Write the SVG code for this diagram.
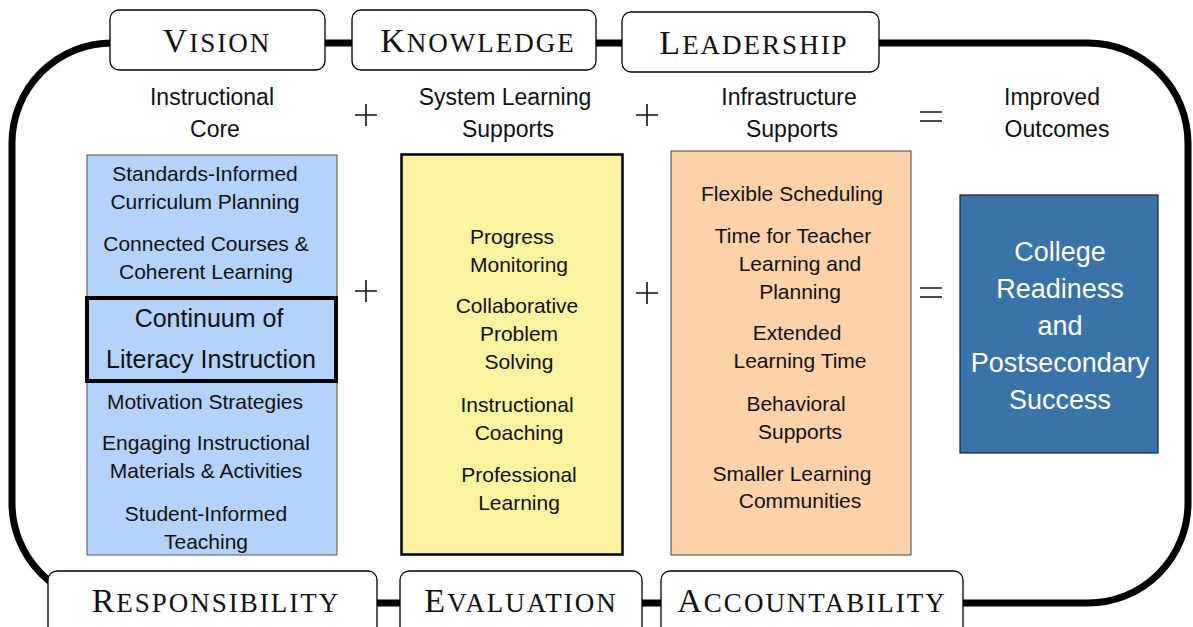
<svg xmlns="http://www.w3.org/2000/svg" width="1193" height="627" viewBox="0 0 1193 627">
<style>
.lbl{fill:#fff;stroke:#000;stroke-width:1.3}
.sc{font-family:"Liberation Serif",serif;font-size:27px;letter-spacing:2px;text-anchor:middle;fill:#111}
.sc .c{font-size:34px}
.hd{font-family:"Liberation Sans",Arial,sans-serif;font-size:23px;text-anchor:middle;fill:#111}
.bd{font-family:"Liberation Sans",Arial,sans-serif;font-size:21px;text-anchor:middle;fill:#111}
.big{font-family:"Liberation Sans",Arial,sans-serif;font-size:25px;text-anchor:middle;fill:#111}
.wt{font-family:"Liberation Sans",Arial,sans-serif;font-size:27px;text-anchor:middle;fill:#fff}
.op{stroke:#111;stroke-width:1.6;fill:none}
</style>
<rect width="1193" height="627" fill="#fff"/>
<g id="connectors">
<rect x="12" y="43" width="1176" height="560" rx="100" ry="100" fill="none" stroke="#000" stroke-width="7"/>
</g>
<g id="vision"><rect class="lbl" x="110" y="10" width="215" height="60" rx="9"/><text class="sc" x="217" y="52"><tspan class="c">V</tspan>ISION</text></g>
<g id="knowledge"><rect class="lbl" x="352" y="10" width="244" height="60" rx="9"/><text class="sc" x="478" y="52"><tspan class="c">K</tspan>NOWLEDGE</text></g>
<g id="leadership"><rect class="lbl" x="622" y="12" width="257" height="60" rx="9"/><text class="sc" x="754" y="54"><tspan class="c">L</tspan>EADERSHIP</text></g>
<g id="responsibility"><rect class="lbl" x="48" y="571" width="329" height="70" rx="9"/><text class="sc" x="216" y="612"><tspan class="c">R</tspan>ESPONSIBILITY</text></g>
<g id="evaluation"><rect class="lbl" x="400" y="571" width="242" height="70" rx="9"/><text class="sc" x="521" y="612"><tspan class="c">E</tspan>VALUATION</text></g>
<g id="accountability"><rect class="lbl" x="661" y="571" width="302" height="70" rx="9"/><text class="sc" x="812" y="612"><tspan class="c">A</tspan>CCOUNTABILITY</text></g>

<g id="headers">
<text class="hd" x="212" y="105">Instructional</text><text class="hd" x="215" y="137">Core</text>
<text class="hd" x="505" y="105">System Learning</text><text class="hd" x="508" y="137">Supports</text>
<text class="hd" x="789" y="105">Infrastructure</text><text class="hd" x="792" y="137">Supports</text>
<text class="hd" x="1052" y="105">Improved</text><text class="hd" x="1057" y="137">Outcomes</text>
</g>
<g id="operators">
<path class="op" d="M355 115H377M366 104V126"/>
<path class="op" d="M636 115H658M647 104V126"/>
<path class="op" d="M920 112H942M920 121H942"/>
<path class="op" d="M355 291H377M366 280V302"/>
<path class="op" d="M636 293H658M647 282V304"/>
<path class="op" d="M920 288H942M920 297H942"/>
</g>

<g id="instructional-core">
<rect x="87" y="155" width="250" height="400" fill="#b3d3fb" stroke="#555" stroke-width="1"/>
<text class="bd" x="205" y="181">Standards-Informed</text>
<text class="bd" x="205" y="209">Curriculum Planning</text>
<text class="bd" x="206" y="251">Connected Courses &amp;</text>
<text class="bd" x="206" y="279">Coherent Learning</text>
<text class="bd" x="205" y="409">Motivation Strategies</text>
<text class="bd" x="206" y="450">Engaging Instructional</text>
<text class="bd" x="206" y="478">Materials &amp; Activities</text>
<text class="bd" x="206" y="521">Student-Informed</text>
<text class="bd" x="206" y="549">Teaching</text>
</g>
<g id="literacy">
<rect x="87" y="298" width="249" height="83" fill="#b3d3fb" stroke="#000" stroke-width="4"/>
<text class="big" x="209" y="327">Continuum of</text>
<text class="big" x="211" y="368">Literacy Instruction</text>
</g>
<g id="system-supports">
<rect x="401.5" y="154.5" width="221" height="400" fill="#fbf39f" stroke="#000" stroke-width="2.5"/>
<text class="bd" x="512" y="244">Progress</text>
<text class="bd" x="519" y="272">Monitoring</text>
<text class="bd" x="517" y="313">Collaborative</text>
<text class="bd" x="519" y="341">Problem</text>
<text class="bd" x="519" y="369">Solving</text>
<text class="bd" x="517" y="412">Instructional</text>
<text class="bd" x="519" y="440">Coaching</text>
<text class="bd" x="519" y="482">Professional</text>
<text class="bd" x="519" y="510">Learning</text>
</g>
<g id="infrastructure">
<rect x="671" y="151" width="240" height="404" fill="#fdd2a8" stroke="#444" stroke-width="1"/>
<text class="bd" x="792" y="201">Flexible Scheduling</text>
<text class="bd" x="793" y="243">Time for Teacher</text>
<text class="bd" x="800" y="271">Learning and</text>
<text class="bd" x="800" y="299">Planning</text>
<text class="bd" x="797" y="340">Extended</text>
<text class="bd" x="800" y="368">Learning Time</text>
<text class="bd" x="796" y="411">Behavioral</text>
<text class="bd" x="800" y="439">Supports</text>
<text class="bd" x="792" y="481">Smaller Learning</text>
<text class="bd" x="800" y="508">Communities</text>
</g>
<g id="outcomes">
<rect x="960" y="195" width="198" height="258" fill="#3a73a9" stroke="#222" stroke-width="1.2"/>
<text class="wt" x="1060" y="261">College</text>
<text class="wt" x="1060" y="298">Readiness</text>
<text class="wt" x="1060" y="335">and</text>
<text class="wt" x="1060" y="372">Postsecondary</text>
<text class="wt" x="1060" y="409">Success</text>
</g>
</svg>
